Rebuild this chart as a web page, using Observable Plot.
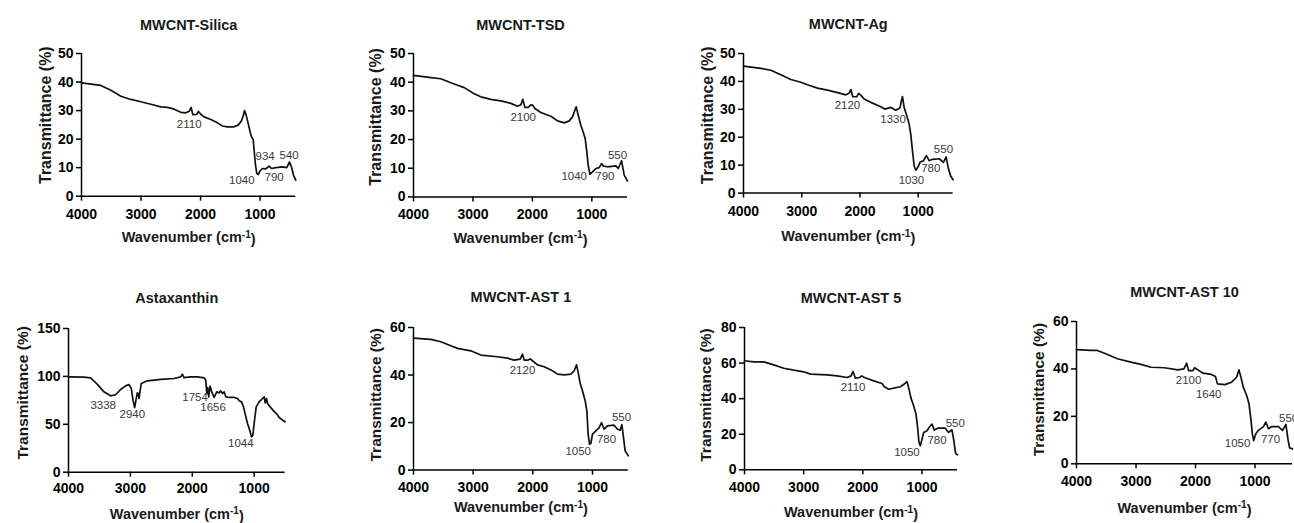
<!DOCTYPE html>
<html><head><meta charset="utf-8">
<script src="https://cdn.jsdelivr.net/npm/d3@7"></script>
<script src="https://cdn.jsdelivr.net/npm/@observablehq/plot@0.6"></script>
<style>
html,body{margin:0;padding:0;background:#fff;overflow:hidden;}
#chart{position:relative;width:1294px;height:523px;overflow:hidden;background:#fff;}
.panel{position:absolute;}
.panel svg{display:block;max-width:none !important;}
.panel svg [aria-label="x-axis tick"], .panel svg [aria-label="y-axis tick"]{stroke-width:1.5;}
</style></head><body><div id="chart"></div>
<script>
// ---------- data ----------
const xTicks = [4000, 3000, 2000, 1000];

const silicaWn = [4000,3840,3675,3507,3339,3171,3003,2835,2667,2555,2443,2331,2247,2191,2158,2130,2063,2035,1996,1940,1828,1716,1632,1548,1436,1369,1312,1279,1262,1234,1200,1167,1144,1116,1100,1077,1055,1032,999,960,904,848,808,736,624,551,506,473,439,400];
const silicaT  = [39.7,39.3,38.8,37.1,35.0,33.9,33.1,32.2,31.3,31.1,30.5,29.4,29.2,29.8,31.1,28.6,28.7,29.7,28.7,27.8,26.9,25.7,24.6,24.3,24.3,24.9,26.4,28.4,30.0,28.4,25.5,22.5,20.8,19.9,16.1,10.9,7.9,7.6,8.9,9.7,9.6,10.5,9.7,10.0,10.3,10.0,12.0,10.3,7.4,5.6];
const silicaPeakText = ["2110","1040","934","790","540"];
const silicaPeakWn   = [2191,1307,915,764,512];
const silicaPeakT    = [25.1,5.6,13.8,6.5,14.4];

const tsdWn = [4000,3708,3540,3372,3147,2979,2867,2699,2531,2362,2250,2194,2160,2127,2071,2026,1992,1958,1858,1689,1577,1465,1381,1325,1285,1263,1229,1185,1140,1112,1084,1061,1033,988,932,876,837,803,736,595,556,500,455,400];
const tsdT  = [42.4,41.6,41.2,39.8,38.1,36.0,34.9,34.0,33.5,32.6,31.6,32.1,34.0,31.2,31.2,32.1,31.9,30.8,29.4,28.1,26.5,25.8,26.5,27.9,30.2,31.4,28.5,25.0,22.3,20.3,15.7,11.0,7.9,8.7,9.9,10.2,11.6,10.7,10.5,10.8,9.9,12.6,7.6,5.5];
const tsdPeakText = ["2100","1040","790","550"];
const tsdPeakWn   = [2155,1297,781,568];
const tsdPeakT    = [27.6,7.2,7.2,14.5];

const agWn = [4000,3702,3531,3359,3187,3015,2901,2729,2558,2386,2243,2185,2157,2123,2054,2025,1985,1928,1813,1642,1573,1470,1384,1344,1310,1287,1270,1241,1195,1155,1127,1098,1069,1041,1001,966,909,857,812,754,640,566,520,485,440,400];
const agT  = [45.5,44.7,44.0,42.4,40.7,39.7,38.8,37.6,36.9,36.0,35.2,35.8,37.1,34.5,34.5,35.7,35.1,33.7,32.5,30.9,30.1,30.7,29.7,30.1,30.7,33.1,34.6,30.7,27.7,24.7,21.1,15.2,9.8,8.2,9.4,11.1,11.6,13.4,11.6,12.1,12.3,11.0,13.0,9.2,6.0,4.8];
const agPeakText = ["2120","1330","1030","780","550"];
const agPeakWn   = [2214,1430,1115,783,566];
const agPeakT    = [31.5,26.5,4.4,8.9,15.8];

const astWn = [4000,3752,3644,3536,3428,3320,3239,3158,3077,3023,2985,2958,2931,2910,2888,2872,2861,2845,2824,2726,2510,2295,2187,2160,2133,2025,1917,1809,1782,1766,1750,1733,1712,1685,1647,1604,1566,1539,1512,1485,1458,1404,1323,1269,1242,1204,1172,1145,1107,1064,1043,1021,1000,967,919,865,838,822,800,784,741,686,632,595,541,500];
const astT  = [99.5,99.2,98.5,91.9,83.9,79.7,80.8,86.3,90.1,91.5,87.4,75.2,67.5,75.2,82.8,82.1,76.9,83.9,92.6,95.4,96.8,97.8,99.5,102.3,98.8,99.5,99.5,98.5,96.1,82.1,88.4,78.7,89.8,83.9,78.0,83.9,82.8,84.9,82.1,83.9,78.7,78.0,78.0,76.9,74.5,73.4,68.2,60.6,50.8,42.1,36.9,38.6,50.8,68.2,73.4,76.9,78.7,72.4,76.9,71.7,68.2,64.0,60.6,57.1,54.3,52.6];
const astPeakText = ["3338","2940","1754","1656","1044"];
const astPeakWn   = [3439,2969,1955,1663,1215];
const astPeakT    = [70.0,59.9,78.0,68.2,29.9];

const ast1Wn = [4000,3709,3542,3374,3263,3039,2872,2592,2425,2313,2212,2173,2145,2078,2045,2006,1922,1810,1670,1587,1475,1363,1307,1268,1240,1207,1168,1123,1095,1073,1050,1028,1000,944,888,849,804,749,637,581,536,508,480,453,400];
const ast1T  = [55.5,55.0,54.0,52.3,51.2,50.2,48.4,47.7,47.1,46.3,46.7,48.8,46.3,46.3,46.8,46.0,44.3,43.5,41.8,40.4,40.1,40.4,41.8,44.3,41.1,36.5,33.4,29.2,25.0,15.1,10.9,11.2,15.1,16.5,17.9,20.0,17.2,18.6,18.9,17.2,16.8,19.1,13.7,8.1,6.0];
const ast1PeakText = ["2120","1050","780","550"];
const ast1PeakWn   = [2173,1240,765,514];
const ast1PeakT    = [41.8,7.7,13.0,22.2];

const ast5Wn = [4000,3842,3674,3505,3336,3167,2998,2886,2604,2436,2267,2199,2165,2126,2053,2019,1974,1816,1676,1636,1563,1479,1366,1299,1254,1226,1186,1141,1102,1074,1051,1029,1006,972,916,871,831,792,736,607,550,494,466,432,400];
const ast5T  = [61.3,60.7,60.7,59.0,57.1,56.0,55.1,53.8,53.4,52.8,51.9,52.8,55.3,51.5,51.9,52.8,51.9,50.0,48.5,46.7,45.3,45.9,46.7,48.2,49.6,46.3,40.3,36.0,31.3,23.8,15.4,13.5,16.3,21.0,21.9,24.2,25.7,22.3,23.4,23.4,21.0,22.5,17.2,9.2,8.4];
const ast5PeakText = ["2110","1050","780","550"];
const ast5PeakWn   = [2165,1254,747,438];
const ast5PeakT    = [46.3,10.1,16.7,26.0];

const ast10Wn = [4000,3763,3650,3509,3312,3086,2917,2748,2522,2297,2195,2150,2116,2043,2015,1958,1874,1733,1665,1631,1507,1394,1310,1270,1236,1197,1140,1101,1067,1045,1022,988,943,858,819,774,718,605,537,481,447,419,370];
const ast10T  = [48.1,47.8,47.8,46.4,44.3,42.9,41.9,40.7,40.5,39.6,40.0,42.4,39.3,39.3,40.5,39.6,38.2,37.7,36.8,33.7,33.4,34.4,36.5,39.6,36.5,32.3,28.8,25.3,18.3,12.6,9.8,12.6,14.1,15.7,17.6,14.8,15.7,15.7,14.1,16.6,10.5,6.7,6.3];
const ast10PeakText = ["2100","1640","1050","770","550"];
const ast10PeakWn   = [2116,1778,1293,740,436];
const ast10PeakT    = [35.4,29.5,8.7,10.5,19.0];

// ---------- layout ----------
const FONT = "'Liberation Sans', Arial, Helvetica, sans-serif";
const panels = [
  {title:"MWCNT-Silica", wn:silicaWn, t:silicaT, pk:[silicaPeakText,silicaPeakWn,silicaPeakT], xd:[4000,400], yd:[0,50], yt:[0,10,20,30,40,50],
   x0:80.7, x1:295, yT:53.3, yB:196, tp:8, tDy:-34, xlDy:46, ylDx:-35.7, ylDy:-9.7, ylFs:16},
  {title:"MWCNT-TSD", wn:tsdWn, t:tsdT, pk:[tsdPeakText,tsdPeakWn,tsdPeakT], xd:[4000,400], yd:[0,50], yt:[0,10,20,30,40,50],
   x0:412.7, x1:626.7, yT:53.3, yB:196.7, tp:7.5, tDy:-34, xlDy:46, ylDx:-37.7, ylDy:-8.3, ylFs:16},
  {title:"MWCNT-Ag", wn:agWn, t:agT, pk:[agPeakText,agPeakWn,agPeakT], xd:[4000,400], yd:[0,50], yt:[0,10,20,30,40,50],
   x0:742.7, x1:952.3, yT:52.7, yB:192.3, tp:7.7, tDy:-34.4, xlDy:48, ylDx:-36, ylDy:-8, ylFs:16},
  {title:"Astaxanthin", wn:astWn, t:astT, pk:[astPeakText,astPeakWn,astPeakT], xd:[4000,500], yd:[0,150], yt:[0,50,100,150],
   x0:67.7, x1:284.3, yT:328.3, yB:472, tp:5.5, tDy:-36, xlDy:46.5, ylDx:-45, ylDy:-7.5, ylFs:15.5},
  {title:"MWCNT-AST 1", wn:ast1Wn, t:ast1T, pk:[ast1PeakText,ast1PeakWn,ast1PeakT], xd:[4000,400], yd:[0,60], yt:[0,20,40,60],
   x0:412.7, x1:627.5, yT:326.7, yB:469.3, tp:6.5, tDy:-36, xlDy:42, ylDx:-37.7, ylDy:-4, ylFs:15.5},
  {title:"MWCNT-AST 5", wn:ast5Wn, t:ast5T, pk:[ast5PeakText,ast5PeakWn,ast5PeakT], xd:[4000,400], yd:[0,80], yt:[0,20,40,60,80],
   x0:744, x1:957, yT:326.7, yB:469, tp:7, tDy:-35, xlDy:47.5, ylDx:-38, ylDy:-3.6, ylFs:15.5},
  {title:"MWCNT-AST 10", wn:ast10Wn, t:ast10T, pk:[ast10PeakText,ast10PeakWn,ast10PeakT], xd:[4000,370], yd:[0,60], yt:[0,20,40,60],
   x0:1075.7, x1:1291.7, yT:321, yB:463.3, tp:7.5, tDy:-35, xlDy:49, ylDx:-37.4, ylDy:-3, ylFs:15.5}
];

const chart = document.getElementById("chart");
const mL = 70, mR = 30, mT = 50, mB = 66;

for (const p of panels) {
  const w = p.x1 - p.x0, h = p.yB - p.yT;
  const W = w + mL + mR, H = h + mT + mB;
  const idx = d3.range(p.wn.length);
  const [pkText, pkWn, pkT] = p.pk;
  const pidx = d3.range(pkText.length);
  const svg = Plot.plot({
    width: W, height: H,
    marginLeft: mL, marginRight: mR, marginTop: mT, marginBottom: mB,
    style: {fontFamily: FONT, fontSize: "14px", fontWeight: "bold", color: "black", background: "transparent", overflow: "visible", maxWidth: "none"},
    x: {domain: p.xd, ticks: xTicks, tickSize: 5, tickPadding: p.tp, tickFormat: d3.format("d"), label: null},
    y: {domain: p.yd, ticks: p.yt, tickSize: 5, tickPadding: 3, tickFormat: d3.format("d"), label: null},
    marks: [
      Plot.ruleY([p.yd[0]], {stroke: "black", strokeWidth: 1.5}),
      Plot.ruleX([p.xd[0]], {stroke: "black", strokeWidth: 1.5}),
      Plot.line(idx, {x: i => p.wn[i], y: i => p.t[i], stroke: "#111", strokeWidth: 1.7}),
      Plot.text(pidx, {x: i => pkWn[i], y: i => pkT[i], text: i => pkText[i], fontSize: 11.5, fontWeight: "normal", fill: "#3a3a3a"}),
      Plot.text([p.title], {frameAnchor: "top", dy: p.tDy, fontSize: 14.5, fontWeight: "bold", fill: "#1a1a1a"}),
      Plot.text(["Transmittance (%)"], {frameAnchor: "left", textAnchor: "middle", rotate: -90, dx: p.ylDx, dy: p.ylDy, fontSize: p.ylFs, fontWeight: "bold", fill: "#1a1a1a"}),
      Plot.text(["Wavenumber (cm-1)"], {frameAnchor: "bottom", dy: p.xlDy, fontSize: 14.5, fontWeight: "bold", fill: "#1a1a1a"})
    ]
  });
  svg.setAttribute("width", W);
  svg.setAttribute("height", H);
  d3.select(svg).selectAll("text").filter(function(){ return this.textContent === "Wavenumber (cm-1)"; }).each(function(){
    const t = d3.select(this);
    t.text(null);
    t.append("tspan").text("Wavenumber (cm");
    t.append("tspan").attr("dy", "-0.45em").attr("font-size", "70%").text("-1");
    t.append("tspan").attr("dy", "0.45em").text(")");
  });
  const div = document.createElement("div");
  div.className = "panel";
  div.style.left = (p.x0 - mL) + "px";
  div.style.top = (p.yT - mT) + "px";
  div.style.width = W + "px";
  div.style.height = H + "px";
  div.appendChild(svg);
  chart.appendChild(div);
}
</script>
</body></html>
